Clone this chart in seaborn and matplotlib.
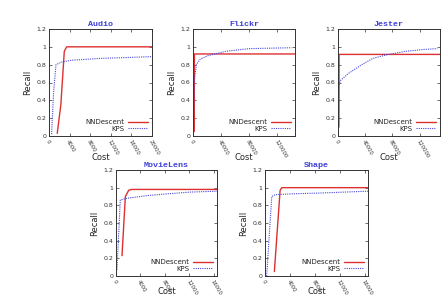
import matplotlib
matplotlib.use("Agg")
import matplotlib.pyplot as plt
import seaborn as sns
import pandas as pd

sns.set_theme(style="white")
plt.rcParams['font.family'] = ['DejaVu Sans']

titles = ["Audio", "Flickr", "Jester", "MovieLens", "Shape"]

# NNDescent curves (cost, recall)
nn_audio_x = [1600, 2300, 2970, 3430, 5000, 20000]
nn_audio_y = [0.03, 0.35, 0.95, 1.0, 1.0, 1.0]
kps_audio_x = [500, 900, 1360, 2500, 4400, 9900, 15000, 19800]
kps_audio_y = [0.02, 0.5, 0.8, 0.83, 0.85, 0.87, 0.88, 0.89]

nn_flickr_x = [1800, 2000, 5000, 145000]
nn_flickr_y = [0.05, 0.92, 0.92, 0.92]
kps_flickr_x = [300, 1500, 4800, 10000, 20800, 47000, 80000, 110000, 140000]
kps_flickr_y = [0.02, 0.6, 0.8, 0.86, 0.9, 0.95, 0.98, 0.985, 0.99]

nn_jester_x = [1400, 1600, 5000, 150000]
nn_jester_y = [0.1, 0.915, 0.915, 0.915]
kps_jester_x = [400, 1000, 3300, 15000, 35000, 51000, 71000, 100000, 125000, 146000]
kps_jester_y = [0.1, 0.55, 0.62, 0.7, 0.8, 0.87, 0.91, 0.95, 0.97, 0.98]

nn_movie_x = [980, 1530, 2070, 2500, 16500]
nn_movie_y = [0.23, 0.9, 0.97, 0.98, 0.98]
kps_movie_x = [160, 700, 1800, 5080, 8360, 12180, 16500]
kps_movie_y = [0.07, 0.86, 0.88, 0.91, 0.93, 0.95, 0.96]

nn_shape_x = [1500, 2420, 2690, 16500]
nn_shape_y = [0.05, 0.97, 1.0, 1.0]
kps_shape_x = [270, 1080, 1610, 4300, 9000, 16500]
kps_shape_y = [0.0, 0.9, 0.92, 0.93, 0.94, 0.96]

nn_x = [nn_audio_x, nn_flickr_x, nn_jester_x, nn_movie_x, nn_shape_x]
nn_y = [nn_audio_y, nn_flickr_y, nn_jester_y, nn_movie_y, nn_shape_y]
kps_x = [kps_audio_x, kps_flickr_x, kps_jester_x, kps_movie_x, kps_shape_x]
kps_y = [kps_audio_y, kps_flickr_y, kps_jester_y, kps_movie_y, kps_shape_y]

xlims = [20000, 145000, 150000, 16500, 16500]
xticks = [[0, 4000, 8000, 12000, 16000, 20000],
          [0, 40000, 80000, 120000],
          [0, 40000, 80000, 120000],
          [0, 4000, 8000, 12000, 16000],
          [0, 4000, 8000, 12000, 16000]]
yticks = [0, 0.2, 0.4, 0.6, 0.8, 1.0, 1.2]
ytick_labels = ["0", "0.2", "0.4", "0.6", "0.8", "1", "1.2"]

W, H = 443, 297
boxes = [(49, 29, 152, 136), (193, 29, 295, 136), (338, 29, 440, 136),
         (116, 170, 217, 276), (265, 170, 368, 276)]
cost_y = [157, 157, 157, 291, 291]

red = "#dd3030"
blue = "#4848dd"

fig = plt.figure(figsize=(W / 100, H / 100), dpi=100)
for i, t in enumerate(titles):
    l, tp, r, b = boxes[i]
    ax = fig.add_axes([l / W, (H - b) / H, (r - l) / W, (b - tp) / H])
    df_nn = pd.DataFrame({"Cost": nn_x[i], "Recall": nn_y[i]})
    df_kps = pd.DataFrame({"Cost": kps_x[i], "Recall": kps_y[i]})
    sns.lineplot(data=df_nn, x="Cost", y="Recall", ax=ax, color=red,
                 linewidth=1.0, label="NNDescent", sort=False)
    sns.lineplot(data=df_kps, x="Cost", y="Recall", ax=ax, color=blue,
                 linewidth=0.8, linestyle=(0, (1, 1)), label="KPS", sort=False)
    ax.set_xlim(0, xlims[i])
    ax.set_ylim(0, 1.2)
    ax.set_xticks(xticks[i])
    ax.set_xticklabels([str(v) for v in xticks[i]], rotation=-60, ha="left",
                       rotation_mode="anchor", fontsize=3.8)
    ax.set_yticks(yticks)
    ax.set_yticklabels(ytick_labels, fontsize=4.5)
    ax.tick_params(axis="both", direction="in", length=2, width=0.5, pad=2,
                   colors="#333333")
    ax.tick_params(axis="y", right=True, left=True)
    ax.tick_params(axis="x", top=True, bottom=True)
    for s in ax.spines.values():
        s.set_linewidth(0.7)
        s.set_color("#333333")
    ax.set_title(t, fontsize=6, family="Liberation Mono", fontweight="bold",
                 color="#4040d8", pad=2)
    ax.set_ylabel("Recall", fontsize=6, labelpad=3)
    ax.set_xlabel("Cost", fontsize=6)
    ax.xaxis.set_label_coords(0.5, (b - cost_y[i]) / (b - tp))
    ax.xaxis.label.set_va("center")
    ax.legend(loc="lower right", frameon=False, markerfirst=False,
              fontsize=5, handlelength=2.8, borderaxespad=0.2,
              labelspacing=0.1, handletextpad=0.6)

fig.savefig("out.png", dpi=100)
